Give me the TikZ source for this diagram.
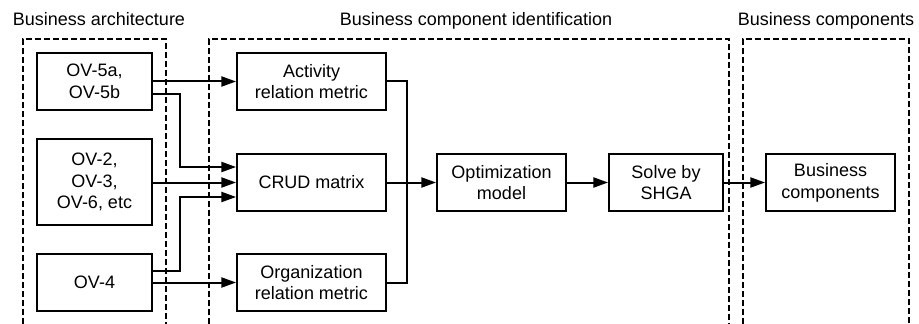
\documentclass[tikz,border=0pt]{standalone}
\usepackage{fontspec}
\setmainfont{Liberation Sans}
\usetikzlibrary{arrows.meta}
\begin{document}
\begin{tikzpicture}[x=0.75pt,y=-0.75pt,
  every node/.style={font=\fontsize{13.5pt}{16.3pt}\selectfont},
  blk/.style={draw, line width=1.4pt, minimum width=#1, minimum height=42.75pt, inner sep=0pt, align=center},
  blk/.default=86pt,
  grp/.style={line width=1.2pt, dash pattern=on 4.5pt off 2.25pt},
  conn/.style={line width=1.5pt, -{Triangle[length=11pt,width=7.5pt]}},
  ttl/.style={anchor=base}]
\useasboundingbox (0,0) rectangle (919,324);
% group frames
\draw[grp] (23,324) -- (23,39) -- (166,39) -- (166,324);
\draw[grp] (209,324) -- (209,39) -- (729,39) -- (729,324);
\draw[grp] (743,324) -- (743,39) -- (909,39) -- (909,324);
\node[ttl] (t1) at (99,26) {Business architecture};
\node[ttl] (t2) at (476,26) {Business component identification};
\node[ttl] (t3) at (826,26) {Business components};
% nodes
\node[blk] (ov5) at (94.5,81.5) {OV-5a,\\OV-5b};
\node[blk, minimum height=64.5pt] (ov2) at (94.5,182) {OV-2,\\OV-3,\\OV-6, etc};
\node[blk] (ov4) at (94.5,282.5) {OV-4};
\node[blk=111.75pt] (act) at (311.5,81.5) {Activity\\relation metric};
\node[blk=111.75pt] (crud) at (311.5,182.5) {CRUD matrix};
\node[blk=111.75pt] (org) at (311.5,282.5) {Organization\\relation metric};
\node[blk=96.75pt] (opt) at (501.5,182.5) {Optimization\\model};
\node[blk=85.5pt] (shga) at (666,182.5) {Solve by\\SHGA};
\node[blk=96.75pt] (bc) at (830.5,182.5) {Business\\components};
% connectors
\coordinate (a1) at (180,94);
\coordinate (a2) at (180,167);
\coordinate (b1) at (180,271);
\coordinate (b2) at (180,197);
\coordinate (j1) at (407,81.5);
\coordinate (j2) at (407,282.5);
\draw[conn] (ov5.east) -- (act.west);
\draw[conn] (ov5.east |- a1) -- (a1) -- (a2) -- (crud.west |- a2);
\draw[conn] (ov2.east |- crud.west) -- (crud.west);
\draw[conn] (ov4.east |- b1) -- (b1) -- (b2) -- (crud.west |- b2);
\draw[conn] (ov4.east) -- (org.west);
\draw[line width=1.5pt] (act.east) -- (j1) -- (j2) -- (org.east);
\draw[conn] (crud.east) -- (opt.west);
\draw[conn] (opt.east) -- (shga.west);
\draw[conn] (shga.east) -- (bc.west);
\end{tikzpicture}
\end{document}
